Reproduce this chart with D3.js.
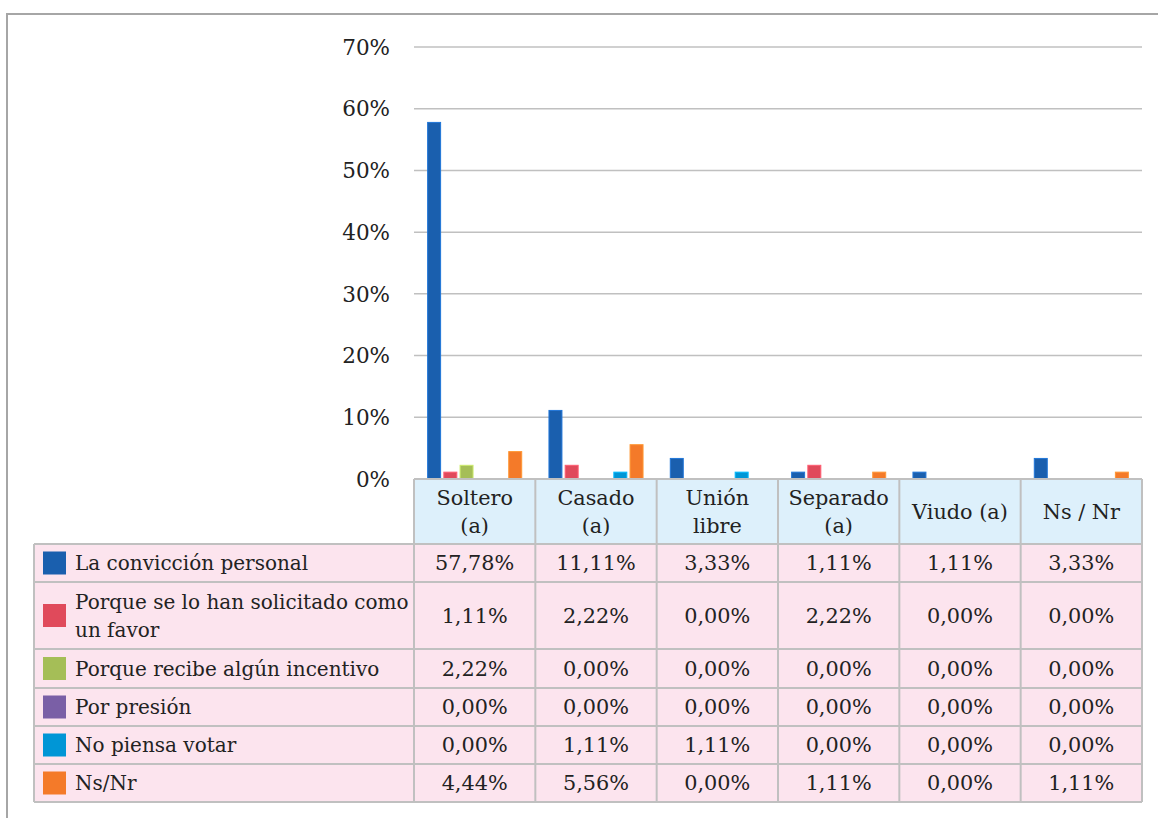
<!DOCTYPE html>
<html>
<head>
<meta charset="utf-8">
<script src="https://cdn.jsdelivr.net/npm/d3@7"></script>
<style>
  body { margin: 0; background: #fff; }
  text { font-family: "DejaVu Serif", serif; fill: #222; }
  .tick-label { font-size: 21.5px; }
  .cell-text { font-size: 20.8px; }
  .legend-text { font-size: 20px; }
</style>
</head>
<body>
<div id="chart"></div>
<script>
//////////////////////////////////////////////////////////////
//////////////////////// Data ////////////////////////////////
//////////////////////////////////////////////////////////////

const categories = ["Soltero (a)", "Casado (a)", "Unión libre", "Separado (a)", "Viudo (a)", "Ns / Nr"]
const categoryLines = [["Soltero", "(a)"], ["Casado", "(a)"], ["Unión", "libre"], ["Separado", "(a)"], ["Viudo (a)"], ["Ns / Nr"]]

const seriesNames = ["La convicción personal", "Porque se lo han solicitado como un favor", "Porque recibe algún incentivo", "Por presión", "No piensa votar", "Ns/Nr"]
const seriesLines = [["La convicción personal"], ["Porque se lo han solicitado como", "un favor"], ["Porque recibe algún incentivo"], ["Por presión"], ["No piensa votar"], ["Ns/Nr"]]
const seriesColors = ["#1a5fae", "#e04a5b", "#a5be57", "#7a5fa6", "#0096d6", "#f47a29"]

//one array per series, values in % per category
const conviccion = [57.78, 11.11, 3.33, 1.11, 1.11, 3.33]
const favor      = [1.11, 2.22, 0.00, 2.22, 0.00, 0.00]
const incentivo  = [2.22, 0.00, 0.00, 0.00, 0.00, 0.00]
const presion    = [0.00, 0.00, 0.00, 0.00, 0.00, 0.00]
const noVota     = [0.00, 1.11, 1.11, 0.00, 0.00, 0.00]
const nsnr       = [4.44, 5.56, 0.00, 1.11, 0.00, 1.11]
const seriesValues = [conviccion, favor, incentivo, presion, noVota, nsnr]

const yTicks = [0, 10, 20, 30, 40, 50, 60, 70]

//////////////////////////////////////////////////////////////
//////////////////////// Layout //////////////////////////////
//////////////////////////////////////////////////////////////

const width = 1158
const height = 818

const plotLeft = 414
const plotRight = 1142
const plotTop = 47
const plotBottom = 479
const tableLeft = 34
const headerBottom = 544
const rowHeights = [38, 67, 39, 38, 38, 38]

const gridColor = "#c0c0c0"

const svg = d3.select("#chart")
    .append("svg")
    .attr("width", width)
    .attr("height", height)

//Outer frame
svg.append("path")
    .attr("d", "M7," + height + " L7,14 L" + width + ",14")
    .style("fill", "none")
    .style("stroke", "#a6a6a6")
    .style("stroke-width", 2)

//////////////////////////////////////////////////////////////
//////////////////////// Scales //////////////////////////////
//////////////////////////////////////////////////////////////

const xScale = d3.scaleBand()
    .domain(categories)
    .range([plotLeft, plotRight])

const xInner = d3.scaleBand()
    .domain(seriesNames)
    .range([0, xScale.bandwidth()])
    .paddingInner(0.2)
    .paddingOuter(0.84)

const yScale = d3.scaleLinear()
    .domain([0, 70])
    .range([plotBottom, plotTop])

//////////////////////////////////////////////////////////////
//////////////////////// Gridlines ///////////////////////////
//////////////////////////////////////////////////////////////

svg.append("g")
    .selectAll("line")
    .data(yTicks.slice(1))
    .enter().append("line")
    .attr("x1", plotLeft)
    .attr("x2", plotRight)
    .attr("y1", d => yScale(d))
    .attr("y2", d => yScale(d))
    .style("stroke", gridColor)
    .style("stroke-width", 1.5)

svg.append("g")
    .selectAll("text")
    .data(yTicks)
    .enter().append("text")
    .attr("class", "tick-label")
    .attr("x", 390)
    .attr("y", d => yScale(d))
    .attr("dy", "0.36em")
    .attr("text-anchor", "end")
    .text(d => d + "%")

//////////////////////////////////////////////////////////////
//////////////////////// Bars ////////////////////////////////
//////////////////////////////////////////////////////////////

const barData = []
seriesValues.forEach((vals, s) => {
    vals.forEach((v, c) => barData.push({ s: s, c: c, v: v }))
})

svg.append("g")
    .selectAll("rect")
    .data(barData.filter(d => d.v > 0))
    .enter().append("rect")
    .attr("x", d => xScale(categories[d.c]) + xInner(seriesNames[d.s]))
    .attr("width", xInner.bandwidth())
    .attr("y", d => yScale(d.v))
    .attr("height", d => yScale(0) - yScale(d.v))
    .style("fill", d => seriesColors[d.s])
    .style("stroke", d => d3.color(seriesColors[d.s]).brighter(0.6))
    .style("stroke-width", 1)

//////////////////////////////////////////////////////////////
//////////////////////// Data table //////////////////////////
//////////////////////////////////////////////////////////////

const rowTops = [headerBottom]
rowHeights.forEach((h, i) => rowTops.push(rowTops[i] + h))
const tableBottom = rowTops[rowTops.length - 1]

const table = svg.append("g").attr("class", "table")

//header cells
table.selectAll(".header-cell")
    .data(categories)
    .enter().append("rect")
    .attr("class", "header-cell")
    .attr("x", d => xScale(d))
    .attr("y", plotBottom)
    .attr("width", xScale.bandwidth())
    .attr("height", headerBottom - plotBottom)
    .style("fill", "#ddf0fb")

//body background
table.append("rect")
    .attr("x", tableLeft)
    .attr("y", headerBottom)
    .attr("width", plotRight - tableLeft)
    .attr("height", tableBottom - headerBottom)
    .style("fill", "#fce4ee")

//grid: horizontal lines
const hLines = [{ y: plotBottom, x1: plotLeft }].concat(rowTops.map(y => ({ y: y, x1: tableLeft })))
table.selectAll(".h-line")
    .data(hLines)
    .enter().append("line")
    .attr("x1", d => d.x1)
    .attr("x2", plotRight)
    .attr("y1", d => d.y)
    .attr("y2", d => d.y)
    .style("stroke", gridColor)
    .style("stroke-width", 2)

//grid: vertical lines
const vLines = [{ x: tableLeft, y1: headerBottom }]
    .concat(categories.map(c => ({ x: xScale(c), y1: plotBottom })))
    .concat([{ x: plotRight, y1: plotBottom }])
table.selectAll(".v-line")
    .data(vLines)
    .enter().append("line")
    .attr("x1", d => d.x)
    .attr("x2", d => d.x)
    .attr("y1", d => d.y1)
    .attr("y2", tableBottom)
    .style("stroke", gridColor)
    .style("stroke-width", 2)

const lineGap = 28

//header labels
categoryLines.forEach((lines, i) => {
    const cx = xScale(categories[i]) + xScale.bandwidth() / 2
    const cy = (plotBottom + headerBottom) / 2
    lines.forEach((t, j) => {
        table.append("text")
            .attr("class", "cell-text")
            .attr("x", cx)
            .attr("y", cy + (j - (lines.length - 1) / 2) * lineGap)
            .attr("dy", "0.36em")
            .attr("text-anchor", "middle")
            .text(t)
    })
})

//legend keys + names
seriesLines.forEach((lines, s) => {
    const cy = rowTops[s] + rowHeights[s] / 2
    table.append("rect")
        .attr("x", 43)
        .attr("y", cy - 11.5)
        .attr("width", 23)
        .attr("height", 23)
        .style("fill", seriesColors[s])
    lines.forEach((t, j) => {
        table.append("text")
            .attr("class", "legend-text")
            .attr("x", 75)
            .attr("y", cy + (j - (lines.length - 1) / 2) * lineGap)
            .attr("dy", "0.36em")
            .text(t)
    })
})

//values
const fmt = v => v.toFixed(2).replace(".", ",") + "%"
table.selectAll(".value-text")
    .data(barData)
    .enter().append("text")
    .attr("class", "cell-text value-text")
    .attr("x", d => xScale(categories[d.c]) + xScale.bandwidth() / 2)
    .attr("y", d => rowTops[d.s] + rowHeights[d.s] / 2)
    .attr("dy", "0.36em")
    .attr("text-anchor", "middle")
    .text(d => fmt(d.v))
</script>
</body>
</html>
